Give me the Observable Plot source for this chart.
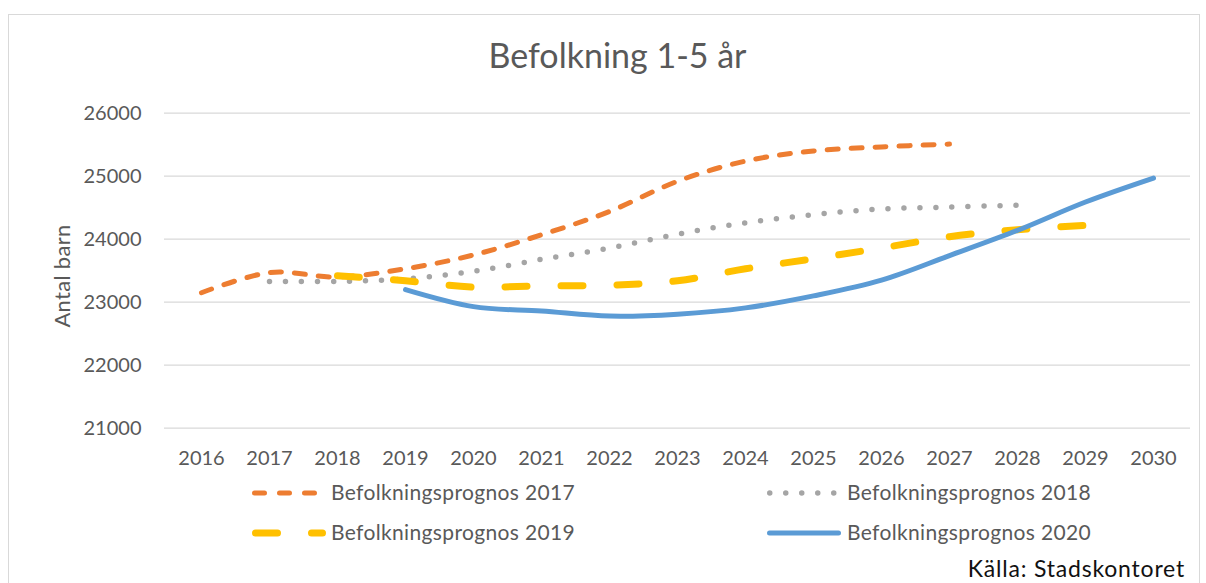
<!DOCTYPE html>
<html>
<head>
<meta charset="utf-8">
<script src="https://cdn.jsdelivr.net/npm/d3@7"></script>
<script src="https://cdn.jsdelivr.net/npm/@observablehq/plot@0.6"></script>
<style>
  html, body { margin: 0; padding: 0; background: #fff; }
  #page { position: relative; width: 1206px; height: 583px; overflow: hidden; background: #fff; font-family: Lato, "Open Sans", sans-serif; }
  #frame { position: absolute; left: 8px; top: 14px; width: 1192px; height: 620px; border: 1px solid #d9d9d9; box-sizing: border-box; }
  .txt { position: absolute; line-height: 1; white-space: nowrap; color: #595959; }
  #title { left: 0; width: 1235px; text-align: center; top: 37.8px; font-size: 34px; }
  #ylabel { left: 62px; top: 276px; font-size: 22px; letter-spacing: 0.3px; transform: translate(-50%, -50%) rotate(-90deg); }
  #chart { position: absolute; left: 0; top: 90px; }
  .leg { position: absolute; height: 20px; }
  .legtxt { font-size: 21px; letter-spacing: 0.35px; }
  #source { right: 21px; top: 556.5px; font-size: 23px; letter-spacing: 0.8px; color: #111; }
</style>
</head>
<body>
<div id="page">
  <div id="frame"></div>
  <div id="title" class="txt">Befolkning 1-5 år</div>
  <div id="ylabel" class="txt">Antal barn</div>
  <div id="chart"></div>
  <div id="legend"></div>
  <div id="source" class="txt">Källa: Stadskontoret</div>
</div>
<script>
// ---- data ----
const years = [2016, 2017, 2018, 2019, 2020, 2021, 2022, 2023, 2024, 2025, 2026, 2027, 2028, 2029, 2030];
const yTicks = [21000, 22000, 23000, 24000, 25000, 26000];

const seriesNames = ["Befolkningsprognos 2017", "Befolkningsprognos 2018", "Befolkningsprognos 2019", "Befolkningsprognos 2020"];
const seriesColors = ["#ED7D31", "#A5A5A5", "#FFC000", "#5B9BD5"];

// Befolkningsprognos 2017: 2016–2027
const prognos2017Years = years.slice(0, 12);
const prognos2017 = [23150, 23470, 23400, 23530, 23750, 24070, 24440, 24920, 25240, 25400, 25465, 25510];
// Befolkningsprognos 2018: 2017–2028
const prognos2018Years = years.slice(1, 13);
const prognos2018 = [23330, 23330, 23370, 23490, 23680, 23860, 24080, 24260, 24390, 24480, 24510, 24540];
// Befolkningsprognos 2019: 2018–2029
const prognos2019Years = years.slice(2, 14);
const prognos2019 = [23420, 23340, 23240, 23260, 23270, 23340, 23530, 23690, 23860, 24040, 24150, 24220];
// Befolkningsprognos 2020: 2019–2030
const prognos2020Years = years.slice(3, 15);
const prognos2020 = [23200, 22930, 22860, 22780, 22810, 22910, 23100, 23350, 23740, 24140, 24590, 24970];

const toRows = (ys, vs) => ys.map((year, i) => ({year, value: vs[i]}));
const rows = [
  toRows(prognos2017Years, prognos2017),
  toRows(prognos2018Years, prognos2018),
  toRows(prognos2019Years, prognos2019),
  toRows(prognos2020Years, prognos2020)
];

const styles = [
  {strokeWidth: 5, strokeDasharray: "11,13"},
  {strokeWidth: 5.5, strokeDasharray: "0,16"},
  {strokeWidth: 7, strokeDasharray: "22,34"},
  {strokeWidth: 5, strokeDasharray: null}
];

const lineMarks = rows.map((r, i) => Plot.line(r, {
  x: "year", y: "value",
  stroke: seriesColors[i],
  strokeWidth: styles[i].strokeWidth,
  ...(styles[i].strokeDasharray ? {strokeDasharray: styles[i].strokeDasharray} : {}),
  strokeLinecap: "round",
  strokeLinejoin: "round",
  curve: "cardinal"
}));

const chart = Plot.plot({
  width: 1206,
  height: 380,
  marginLeft: 164,
  marginRight: 16,
  marginTop: 22.7,
  marginBottom: 42.3,
  style: {fontFamily: "Lato, 'Open Sans', sans-serif", fontSize: "20px", color: "#595959", background: "transparent", overflow: "visible"},
  x: {type: "point", domain: years, padding: 0.5, label: null, tickSize: 0, tickPadding: 22.7, tickFormat: d => String(d)},
  y: {domain: [21000, 26000], ticks: 5, label: null, tickSize: 0, tickPadding: 23, tickFormat: d => String(d)},
  marks: [
    Plot.ruleY(yTicks, {stroke: "#d9d9d9", strokeWidth: 1.3}),
    ...lineMarks
  ]
});
document.getElementById("chart").appendChild(chart);

// ---- legend ----
const legendPos = [
  {sx: 252, tx: 331, y: 493},
  {sx: 767, tx: 847, y: 493},
  {sx: 252, tx: 331, y: 533},
  {sx: 767, tx: 847, y: 533}
];
const legend = document.getElementById("legend");
seriesNames.forEach((name, i) => {
  const p = legendPos[i];
  const ns = "http://www.w3.org/2000/svg";
  const svg = document.createElementNS(ns, "svg");
  svg.setAttribute("width", 76);
  svg.setAttribute("height", 12);
  svg.style.position = "absolute";
  svg.style.left = (p.sx) + "px";
  svg.style.top = (p.y - 6) + "px";
  const ln = document.createElementNS(ns, "line");
  const w = styles[i].strokeWidth;
  ln.setAttribute("x1", w / 2);
  ln.setAttribute("x2", 74 - w / 2);
  ln.setAttribute("y1", 6);
  ln.setAttribute("y2", 6);
  ln.setAttribute("stroke", seriesColors[i]);
  ln.setAttribute("stroke-width", w);
  ln.setAttribute("stroke-linecap", "round");
  if (styles[i].strokeDasharray) ln.setAttribute("stroke-dasharray", i === 0 ? "10,15" : styles[i].strokeDasharray);
  svg.appendChild(ln);
  legend.appendChild(svg);
  const t = document.createElement("div");
  t.className = "txt legtxt";
  t.textContent = name;
  t.style.left = p.tx + "px";
  t.style.top = (p.y + 7 - 18.6) + "px";
  legend.appendChild(t);
});
</script>
</body>
</html>
